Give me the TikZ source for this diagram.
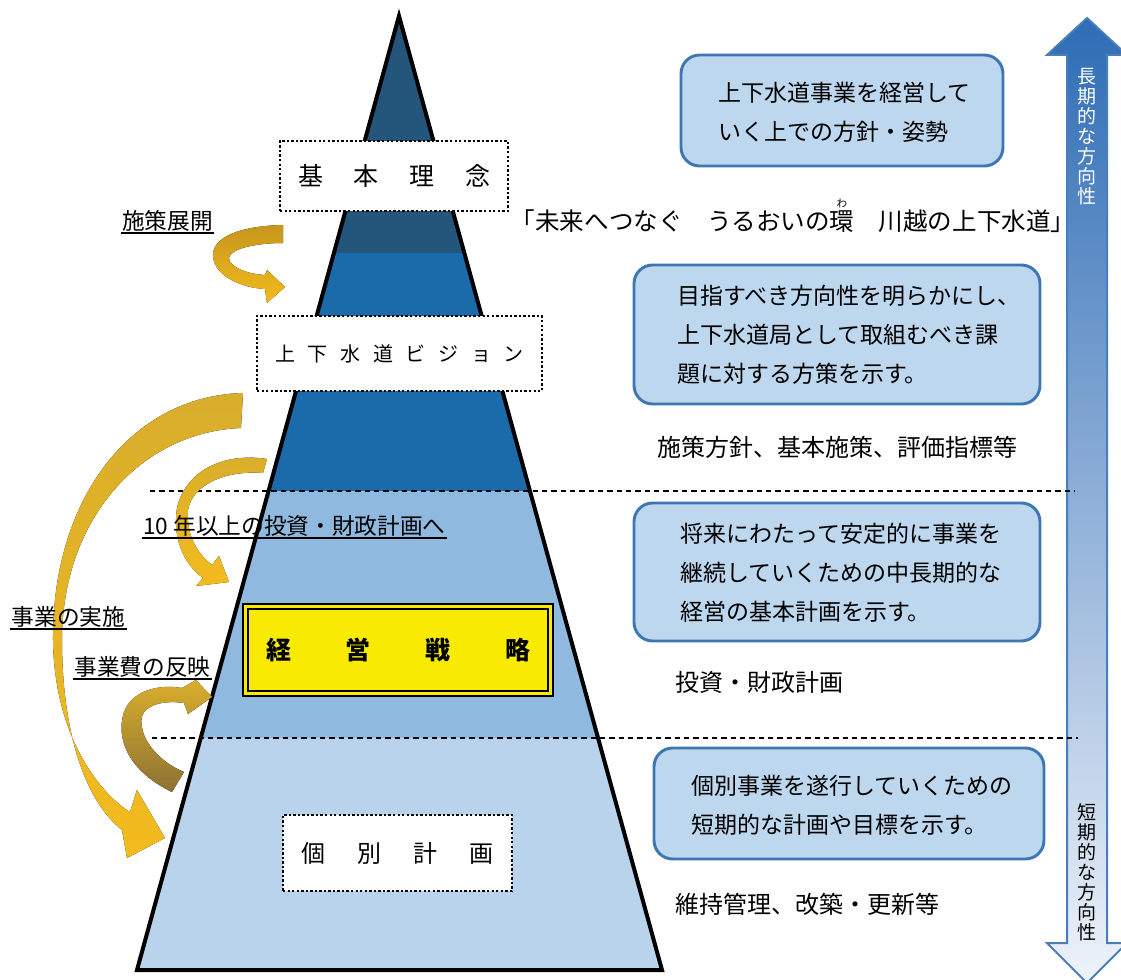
\documentclass[tikz,border=0pt]{standalone}
\usepackage{fontspec}
\setmainfont{Noto Sans CJK JP}
\usetikzlibrary{shadings}
\definecolor{bandA}{HTML}{24557A}
\definecolor{bandB}{HTML}{1B6AA9}
\definecolor{bandC}{HTML}{8FB9DF}
\definecolor{bandD}{HTML}{B9D3ED}
\definecolor{boxfill}{HTML}{BDD7EE}
\definecolor{boxline}{HTML}{3E76B4}
\definecolor{yel}{HTML}{F8EA00}
\definecolor{goldD}{HTML}{C7961C}
\definecolor{goldB}{HTML}{F3BB1E}
\definecolor{goldM}{HTML}{D9AE2C}
\definecolor{olive}{HTML}{8C7234}
\definecolor{arrTop}{HTML}{2E6CB5}
\definecolor{arrMid}{HTML}{A3BADF}
\definecolor{arrBot}{HTML}{EEF3FA}
\definecolor{arrLine}{HTML}{4A7EBB}
\newcommand{\rubyw}[2]{\makebox[0pt][l]{\raisebox{0.95em}{\makebox[1em]{\fontsize{8pt}{8pt}\selectfont #2}}}#1}
\tikzset{
  dotbox/.style={draw=black, fill=white, line width=1.8pt, dash pattern=on 1.8pt off 1.6pt, inner sep=0pt},
  rbox/.style={draw=boxline, fill=boxfill, line width=2.2pt, rounded corners=14pt, inner sep=0pt},
  btext/.style={anchor=west, inner sep=0pt, align=left, font=\fontsize{17.25pt}{29.25pt}\selectfont},
  rlabel/.style={anchor=west, inner sep=0pt, font=\fontsize{18pt}{20pt}\selectfont},
  llabel/.style={inner sep=1pt, font=\fontsize{17pt}{19pt}\selectfont},
  uline/.style={line width=1.4pt},
  dline/.style={line width=0.8pt, dash pattern=on 4pt off 3pt},
  vtext/.style={inner sep=0pt, align=center, font=\fontsize{14.25pt}{15pt}\selectfont}
}
\begin{document}
\begin{tikzpicture}[x=0.75pt,y=-0.75pt]
\useasboundingbox (0,0) rectangle (1121,980);
\clip (0,0) rectangle (1121,980);
\fill[white] (0,0) rectangle (1121,980);

% right double arrow
\draw[arrLine, line width=1.5pt, top color=arrTop, middle color=arrMid, bottom color=arrBot]
  (1067,943) -- (1067,55) -- (1047,55) -- (1087,18) -- (1127,55) -- (1107,55)
  -- (1107,943) -- (1127,943) -- (1087,983) -- (1047,943) -- cycle;
\node[vtext, text=white] (longterm) at (1087,137) {長\\期\\的\\な\\方\\向\\性};
\node[vtext, text=black] (shortterm) at (1087,872) {短\\期\\的\\な\\方\\向\\性};

% pyramid
\begin{scope}
\clip (399,16) -- (662,970) -- (137,970) -- cycle;
\fill[bandA] (0,0) rectangle (700,253);
\fill[bandB] (0,253) rectangle (700,491);
\fill[bandC] (0,491) rectangle (700,738);
\fill[bandD] (0,738) rectangle (700,980);
\end{scope}
\draw[line width=3pt] (399,16) -- (662,970) -- (137,970) -- cycle;

% dashed separators
\draw[dline] (150,491) -- (1075,491);
\draw[dline] (152,738) -- (1078,738);

% gold arrows
\fill[top color=goldD, bottom color=goldB]
  (283,225) .. controls (238,226) and (212,238) .. (213,256)
  .. controls (214,276) and (242,288) .. (265,289)
  -- (267,303) -- (285,287) -- (267,270) -- (265,275)
  .. controls (245,274) and (229,266) .. (229,258)
  .. controls (230,249) and (255,243) .. (283,243) -- cycle;
\fill[top color=goldM, bottom color=goldB]
  (243,393) .. controls (130,396) and (52,500) .. (53,640)
  .. controls (54,730) and (95,790) .. (130,812)
  -- (137,790) -- (165,838) -- (127,858) -- (122,830)
  .. controls (84,800) and (62,730) .. (62,640)
  .. controls (62,520) and (140,432) .. (241,428) -- cycle;
\fill[top color=goldM, bottom color=goldB]
  (267,459) .. controls (222,452) and (185,472) .. (177,508)
  .. controls (172,540) and (185,565) .. (203,578)
  -- (196,586) -- (229,582) -- (219,556) -- (212,565)
  .. controls (197,553) and (186,535) .. (188,510)
  .. controls (192,485) and (225,470) .. (263,473) -- cycle;
\fill[top color=goldM, bottom color=olive]
  (172,792) .. controls (130,772) and (115,740) .. (124,712)
  .. controls (132,690) and (160,684) .. (182,688)
  -- (196,680) -- (212,697) -- (188,714) -- (184,703)
  .. controls (163,700) and (146,705) .. (142,716)
  .. controls (138,735) and (155,760) .. (184,772) -- cycle;

% pyramid labels
\node[dotbox, minimum width=171pt, minimum height=52.5pt, font=\fontsize{18.75pt}{20pt}\selectfont] (kihon) at (394,176)
  {基\hspace{23pt}本\hspace{23pt}理\hspace{23pt}念};
\node[dotbox, minimum width=213.75pt, minimum height=56.25pt, font=\fontsize{15pt}{17pt}\selectfont] (vision) at (399.5,353.5)
  {上\hspace{9.5pt}下\hspace{9.5pt}水\hspace{9.5pt}道\hspace{9.5pt}ビ\hspace{9.5pt}ジ\hspace{9.5pt}ョ\hspace{9.5pt}ン};
\node[draw=black, fill=yel, line width=1pt, double=yel, double distance=2.6pt, minimum width=228.75pt, minimum height=65.25pt, inner sep=0pt, font=\fontsize{18.75pt}{20pt}\selectfont\bfseries] (senryaku) at (398,650)
  {経\hspace{41pt}営\hspace{41pt}戦\hspace{41pt}略};
\node[dotbox, minimum width=171.75pt, minimum height=57pt, font=\fontsize{18pt}{20pt}\selectfont] (kobetsu) at (397.5,853)
  {個\hspace{24pt}別\hspace{24pt}計\hspace{24pt}画};

% right boxes
\node[rbox, minimum width=241.5pt, minimum height=83.25pt] (box1) at (842,110.5) {};
\node[btext] (txt1) at (718,112) {上下水道事業を経営して\\いく上での方針・姿勢};
\node[rbox, minimum width=304.5pt, minimum height=104.25pt] (box2) at (837,334.5) {};
\node[btext] (txt2) at (677,335) {目指すべき方向性を明らかにし、\\上下水道局として取組むべき課\\題に対する方策を示す。};
\node[rbox, minimum width=304.5pt, minimum height=103.5pt] (box3) at (837,572) {};
\node[btext] (txt3) at (680,573) {将来にわたって安定的に事業を\\継続していくための中長期的な\\経営の基本計画を示す。};
\node[rbox, minimum width=292.5pt, minimum height=83.25pt] (box4) at (849,803.5) {};
\node[btext] (txt4) at (691,805) {個別事業を遂行していくための\\短期的な計画や目標を示す。};

% motto
\node[inner sep=0pt, font=\fontsize{18.4pt}{20pt}\selectfont] (motto) at (793,216)
  {「未来へつなぐ　うるおいの\rubyw{環}{わ}　川越の上下水道」};

% right labels
\node[rlabel] (lab1) at (657,447) {施策方針、基本施策、評価指標等};
\node[rlabel] (lab2) at (675,682) {投資・財政計画};
\node[rlabel] (lab3) at (675,904) {維持管理、改築・更新等};

% left labels
\node[llabel] (s1) at (167.5,221) {施策展開};
\draw[uline] (s1.south west) -- (s1.south east);
\node[llabel] (s2) at (294.5,526) {10 年以上の投資・財政計画へ};
\draw[uline] (s2.south west) -- (s2.south east);
\node[llabel] (s3) at (68.5,617) {事業の実施};
\draw[uline] (s3.south west) -- (s3.south east);
\node[llabel] (s4) at (142.5,667) {事業費の反映};
\draw[uline] (s4.south west) -- (s4.south east);
\end{tikzpicture}
\end{document}
